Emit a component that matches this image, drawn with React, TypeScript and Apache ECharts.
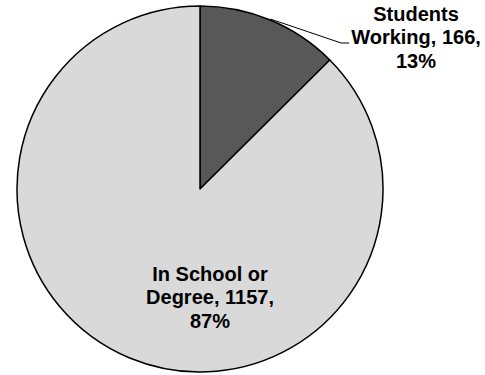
import React, { useEffect, useRef } from "react";
import * as echarts from "echarts";

const categories = ["Students\nWorking", "In School or\nDegree"];
const values = [166, 1157];
const colors = ["#585858", "#d9d9d9"];
const labelPos = [
  { x: 416, y: 37 },
  { x: 210, y: 297 },
];

const CX = 200;
const CY = 189;
const R = 183;

export default function App() {
  const ref = useRef<HTMLDivElement>(null);
  useEffect(() => {
    if (!ref.current) return;
    const chart = echarts.init(ref.current, null, { renderer: "svg" });
    const total = values.reduce((a, b) => a + b, 0);
    const mid0 = ((values[0] / total) * 360) / 2 * (Math.PI / 180);
    const anchor = [CX + (R + 1) * Math.sin(mid0), CY - (R + 1) * Math.cos(mid0)];
    chart.setOption({
      animation: false,
      backgroundColor: "#ffffff",
      series: [
        {
          type: "pie",
          center: [CX, CY],
          radius: [0, R],
          startAngle: 90,
          clockwise: true,
          percentPrecision: 0,
          itemStyle: { borderColor: "#000000", borderWidth: 1.5 },
          label: {
            formatter: "{b}, {c},\n{d}%",
            fontFamily: "Liberation Sans, Arial, sans-serif",
            fontWeight: "bold",
            fontSize: 20,
            lineHeight: 23.5,
            color: "#000000",
            align: "center",
          },
          labelLine: { lineStyle: { color: "#000000", width: 1 } },
          labelLayout: (p: any) => {
            const pos = labelPos[p.dataIndex];
            const out: any = { x: pos.x, y: pos.y, align: "center", verticalAlign: "middle" };
            if (p.dataIndex === 0) {
              const left = p.labelRect.x + (pos.x - (p.labelRect.x + p.labelRect.width / 2));
              out.labelLinePoints = [
                anchor,
                [left - 10, pos.y + 6],
                [left - 2, pos.y + 6],
              ];
            }
            return out;
          },
          data: categories.map((c, i) => ({
            name: c,
            value: values[i],
            itemStyle: { color: colors[i] },
            label: { position: i === 0 ? "outside" : "inside" },
            labelLine: { show: i === 0 },
          })),
        },
      ],
    });
    return () => chart.dispose();
  }, []);
  return (
    <div
      ref={ref}
      style={{ position: "fixed", left: 0, top: 0, width: 485, height: 375 }}
    />
  );
}
